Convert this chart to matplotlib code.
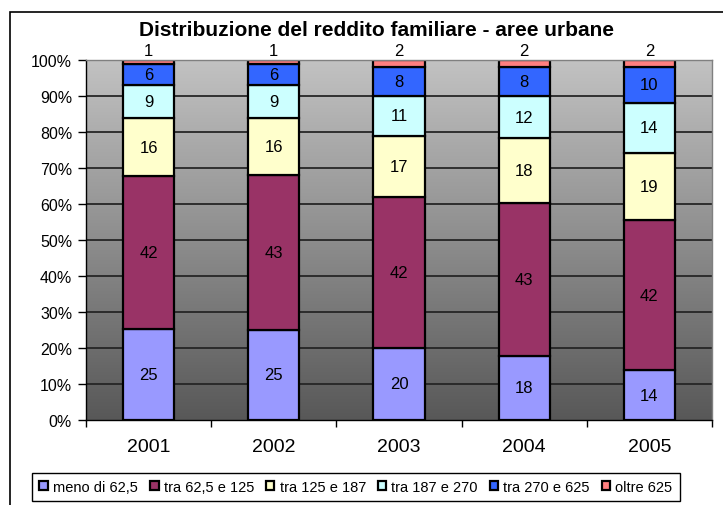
import numpy as np
import matplotlib
matplotlib.use("Agg")
import matplotlib.pyplot as plt
from matplotlib.colors import LinearSegmentedColormap
from matplotlib.patches import Rectangle

plt.rcParams["font.family"] = ["Liberation Sans", "DejaVu Sans"]

years = ["2001", "2002", "2003", "2004", "2005"]
classes = ["meno di 62,5", "tra 62,5 e 125", "tra 125 e 187",
           "tra 187 e 270", "tra 270 e 625", "oltre 625"]
meno_62 = [25, 25, 20, 18, 14]
tra_62_125 = [42, 43, 42, 43, 42]
tra_125_187 = [16, 16, 17, 18, 19]
tra_187_270 = [9, 9, 11, 12, 14]
tra_270_625 = [6, 6, 8, 8, 10]
oltre_625 = [1, 1, 2, 2, 2]
colors = ["#9999FF", "#993366", "#FFFFCC", "#CCFFFF", "#3366FF", "#FF7F7F"]

series = [meno_62, tra_62_125, tra_125_187, tra_187_270, tra_270_625, oltre_625]
data = np.array(series, dtype=float)
pct = data / data.sum(axis=0) * 100

fig = plt.figure(figsize=(7.23, 5.06), dpi=100)
ax = fig.add_axes([86 / 723, 1 - 421 / 506, 626 / 723, 360 / 506])

x = np.arange(len(years))
ax.set_xlim(-0.5, len(years) - 0.5)
ax.set_ylim(0, 100)

# grey gradient background like the Excel plot area
grad = LinearSegmentedColormap.from_list("g", ["#585858", "#c2c2c2"])
ax.imshow(np.linspace(0, 1, 256).reshape(-1, 1), cmap=grad, origin="lower",
          extent=[-0.5, len(years) - 0.5, 0, 100], aspect="auto", zorder=0)

for yv in range(10, 100, 10):
    ax.axhline(yv, color="#262626", lw=1.3, zorder=1)

bottom = np.zeros(len(years))
for i, (name, col) in enumerate(zip(classes, colors)):
    ax.bar(x, pct[i], 0.41, bottom=bottom, color=col, edgecolor="black",
           linewidth=1.6, label=name, zorder=2)
    for j in range(len(years)):
        label = str(int(data[i, j]))
        if i == len(classes) - 1:
            ax.text(x[j], 100.5, label, ha="center", va="bottom", fontsize=12, zorder=3)
        else:
            ax.text(x[j], bottom[j] + pct[i, j] / 2, label, ha="center", va="center",
                    fontsize=12, zorder=3)
    bottom += pct[i]

ax.set_yticks(range(0, 101, 10))
ax.set_yticklabels([f"{v}%" for v in range(0, 101, 10)], fontsize=11.5)
ax.set_xticks(x)
ax.set_xticklabels(years, fontsize=14)
ax.set_xticks(np.arange(-0.5, len(years)), minor=True)
ax.tick_params(axis="x", which="major", length=0, pad=13)
ax.tick_params(axis="x", which="minor", length=5, width=1, direction="out")
ax.tick_params(axis="y", length=6, width=1, direction="out", pad=4)

for side in ["top", "right"]:
    ax.spines[side].set_color("#808080")
    ax.spines[side].set_linewidth(1)
for side in ["left", "bottom"]:
    ax.spines[side].set_color("black")
    ax.spines[side].set_linewidth(1)

fig.text(376 / 723, 1 - 31 / 506, "Distribuzione del reddito familiare - aree urbane",
         ha="center", va="center", fontsize=15, fontweight="bold")

leg = fig.legend(loc="center", bbox_to_anchor=(356 / 723, 1 - 488 / 506), ncol=6,
                 fontsize=10.5, handlelength=0.6, handleheight=0.6, handletextpad=0.35,
                 columnspacing=0.8, borderpad=0.5, fancybox=False, framealpha=1,
                 edgecolor="black")
leg.get_frame().set_linewidth(1)

# outer chart border (right and bottom edges fall outside the image)
fig.patches.append(Rectangle((10 / 723, -0.01), 720 / 723, 1 - 13 / 506 + 0.01,
                             transform=fig.transFigure, fill=False,
                             edgecolor="black", linewidth=1.2))

fig.savefig("out.png", dpi=100)
